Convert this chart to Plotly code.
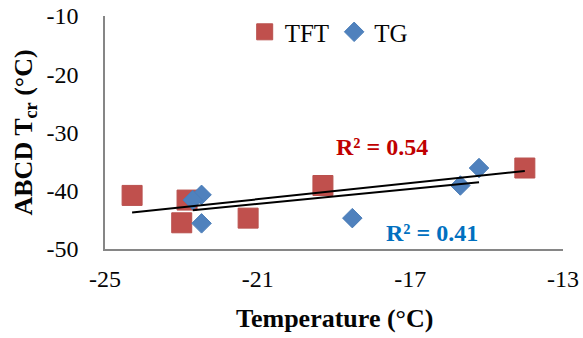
import numpy as np
import plotly.graph_objects as go

# Data
tft_temp = [-24.29, -22.85, -22.99, -21.25, -19.29, -14.0]
tft_tcr = [-40.8, -41.6, -45.5, -44.7, -39.1, -36.1]
tg_temp = [-22.47, -22.7, -22.47, -18.52, -15.69, -15.2]
tg_tcr = [-40.7, -41.6, -45.6, -44.7, -39.1, -36.1]
r2_labels = ["R² = 0.54", "R² = 0.41"]
x_ticks = [-25, -21, -17, -13]
y_ticks = [-10, -20, -30, -40, -50]

RED = "#C0504D"
BLUE = "#4F81BD"
FONT = "Liberation Serif"
TXT = "#050505"

fig = go.Figure()

fig.add_trace(go.Scatter(
    x=tft_temp, y=tft_tcr, mode="markers", name="TFT",
    marker=dict(symbol="square", size=20, color=RED,
                line=dict(color="#B9504D", width=1)),
))
fig.add_trace(go.Scatter(
    x=tg_temp, y=tg_tcr, mode="markers", name="TG",
    marker=dict(symbol="diamond", size=15, color=BLUE,
                line=dict(color="#4A7DB8", width=1)),
))

# Linear trendlines (least squares) from the data
for xs, ys in [(tft_temp, tft_tcr), (tg_temp, tg_tcr)]:
    xs = np.array(xs); ys = np.array(ys)
    m, b = np.polyfit(xs, ys, 1)
    xl = np.array([xs.min(), xs.max()])
    fig.add_trace(go.Scatter(
        x=xl, y=m * xl + b, mode="lines", showlegend=False,
        line=dict(color="black", width=2), hoverinfo="skip",
    ))

fig.add_annotation(x=-17.74, y=-32.5, text="<b>%s</b>" % r2_labels[0],
                   showarrow=False, font=dict(family=FONT, size=24, color="#C00000"))
fig.add_annotation(x=-16.43, y=-47.25, text="<b>%s</b>" % r2_labels[1],
                   showarrow=False, font=dict(family=FONT, size=24, color="#0070C0"))

# Axis titles
fig.add_annotation(xref="paper", yref="paper", x=0.5, y=0, yshift=-69,
                   text="<b>Temperature (°C)</b>", showarrow=False,
                   yanchor="middle", font=dict(family=FONT, size=26, color=TXT))
fig.add_annotation(xref="paper", yref="paper", x=0, y=0.5, xshift=-81,
                   text="<b>ABCD T<sub>cr</sub> (°C)</b>", showarrow=False,
                   textangle=-90, xanchor="center", yanchor="middle",
                   font=dict(family=FONT, size=26, color=TXT))

fig.update_xaxes(range=[-25, -13], tickvals=x_ticks,
                 ticktext=[str(v) for v in x_ticks],
                 tickfont=dict(family=FONT, size=24, color=TXT),
                 showgrid=False, zeroline=False, showline=True,
                 linecolor="#868686", linewidth=1.5,
                 ticks="outside", ticklen=7, tickcolor="rgba(0,0,0,0)")
fig.update_yaxes(range=[-50, -10], tickvals=y_ticks,
                 ticktext=[str(v) for v in y_ticks],
                 tickfont=dict(family=FONT, size=24, color=TXT),
                 showgrid=False, zeroline=False, showline=True,
                 linecolor="#868686", linewidth=1.5,
                 ticks="outside", ticklen=20, tickcolor="rgba(0,0,0,0)")

fig.update_layout(
    template="none",
    width=583, height=338,
    margin=dict(l=105, r=20, t=16, b=89, autoexpand=False),
    paper_bgcolor="white", plot_bgcolor="white",
    font=dict(family=FONT, color=TXT),
    legend=dict(orientation="h", x=0.305, y=0.931, xanchor="left", yanchor="middle",
                font=dict(family=FONT, size=25, color=TXT)),
    showlegend=True,
)

fig.write_html("out.html")
